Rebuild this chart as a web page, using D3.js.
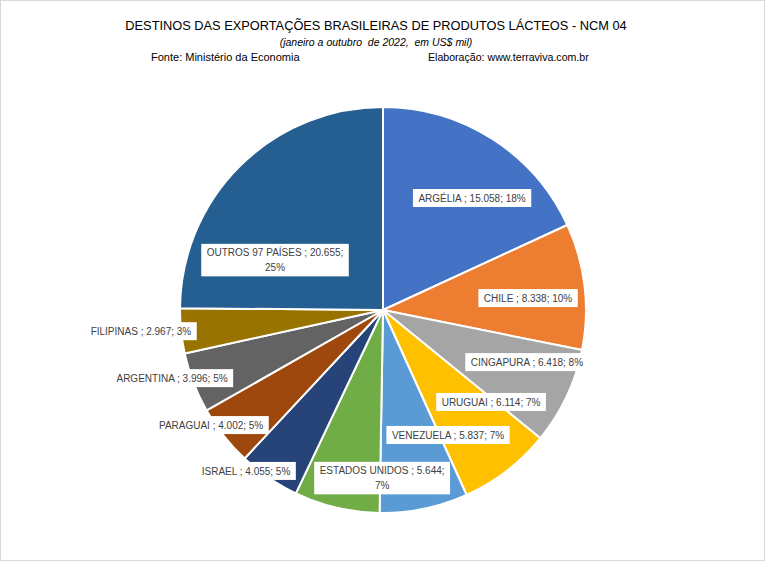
<!DOCTYPE html>
<html>
<head>
<meta charset="utf-8">
<script src="https://cdn.jsdelivr.net/npm/d3@7"></script>
<style>
  html, body { margin: 0; padding: 0; background: #fff; }
  svg { display: block; }
  text { font-family: "Liberation Sans", Arial, sans-serif; }
</style>
</head>
<body>
<svg id="chart" width="765" height="561"></svg>
<script>
// ---- data ----
const categories = ["ARGÉLIA", "CHILE", "CINGAPURA", "URUGUAI", "VENEZUELA", "ESTADOS UNIDOS",
                    "ISRAEL", "PARAGUAI", "ARGENTINA", "FILIPINAS", "OUTROS 97 PAÍSES"];
const values = [15058, 8338, 6418, 6114, 5837, 5644, 4055, 4002, 3996, 2967, 20655];
const colors = ["#4472C4", "#ED7D31", "#A5A5A5", "#FFC000", "#5B9BD5", "#70AD47",
                "#264478", "#9E480E", "#636363", "#997300", "#255E91"];
const titleText = "DESTINOS DAS EXPORTAÇÕES BRASILEIRAS DE PRODUTOS LÁCTEOS - NCM 04";
const subtitleText = "(janeiro a outubro  de 2022,  em US$ mil)";
const sourceText = "Fonte: Ministério da Economia";
const authorText = "Elaboração: www.terraviva.com.br";

// ---- label layout (polar: degrees clockwise from 12 o'clock, fraction of radius) ----
const labelAngles = [38.5, 85.3, 109.9, 130.4, 152.5, 180.3, 220.4, 236.2, 252.1, 265.0, 294.8];
const labelRadii  = [0.705, 0.717, 0.754, 0.699, 0.694, 0.828, 1.041, 1.019, 1.092, 1.197, 0.586];

// ---- setup ----
const svg = d3.select("#chart");
const W = 765, H = 561;
const cx = 383, cy = 310, R = 203;

svg.append("rect").attr("x", 0.5).attr("y", 0.5).attr("width", W - 1).attr("height", H - 1)
  .attr("fill", "#fff").attr("stroke", "#d9d9d9");

// titles
svg.append("text").attr("x", 376).attr("y", 30).attr("text-anchor", "middle")
  .attr("font-size", 12.8).attr("fill", "#000").text(titleText);
svg.append("text").attr("x", 376).attr("y", 46).attr("text-anchor", "middle")
  .attr("font-size", 10.5).attr("font-style", "italic").attr("fill", "#000")
  .style("white-space", "pre").text(subtitleText);
svg.append("text").attr("x", 151).attr("y", 61).attr("font-size", 11).attr("fill", "#000").text(sourceText);
svg.append("text").attr("x", 428).attr("y", 61).attr("font-size", 10.6).attr("fill", "#000").text(authorText);

// percentages (largest remainder, as Excel does so they sum to 100)
const total = d3.sum(values);
const raw = values.map(v => v / total * 100);
const pcts = raw.map(Math.floor);
let remaining = 100 - d3.sum(pcts);
d3.range(values.length).sort((a, b) => (raw[b] - pcts[b]) - (raw[a] - pcts[a]))
  .forEach(i => { if (remaining > 0) { pcts[i] += 1; remaining--; } });

const ptBR = d3.formatLocale({decimal: ",", thousands: ".", grouping: [3], currency: ["", ""]});
const fmt = ptBR.format(",d");

const color = d3.scaleOrdinal().domain(categories).range(colors);
const pie = d3.pie().sort(null).value(d => d.value);
const arc = d3.arc().innerRadius(0).outerRadius(R);
const data = categories.map((c, i) => ({name: c, value: values[i], pct: pcts[i], i}));
const arcs = pie(data);

const g = svg.append("g").attr("transform", `translate(${cx},${cy})`);
g.selectAll("path").data(arcs).join("path")
  .attr("d", arc)
  .attr("fill", d => color(d.data.name))
  .attr("stroke", "#fff").attr("stroke-width", 2).attr("stroke-linejoin", "round");

// labels
const lg = g.append("g");
arcs.forEach(d => {
  const i = d.data.i;
  const a = labelAngles[i] * Math.PI / 180;
  const r = labelRadii[i] * R;
  const x = Math.sin(a) * r, y = -Math.cos(a) * r;
  const full = `${d.data.name} ; ${fmt(d.data.value)}; ${d.data.pct}%`;
  const grp = lg.append("g");
  const box = grp.append("rect").attr("fill", "#fff");
  const t = grp.append("text").attr("font-size", 10).attr("fill", "#404040").attr("text-anchor", "middle");
  t.text(full);
  let lines = [full];
  if (t.node().getComputedTextLength() > 140) {
    lines = [`${d.data.name} ; ${fmt(d.data.value)};`, `${d.data.pct}%`];
  }
  t.text(null);
  const lh = 14.5;
  const y0 = y - (lines.length - 1) * lh / 2;
  lines.forEach((ln, k) => {
    t.append("tspan").attr("x", x).attr("y", y0 + k * lh + 3.6).text(ln);
  });
  let maxW = 0;
  t.selectAll("tspan").each(function() { maxW = Math.max(maxW, this.getComputedTextLength()); });
  const bw = maxW + 11, bh = 18 + (lines.length - 1) * lh;
  box.attr("x", x - bw / 2).attr("y", y - bh / 2).attr("width", bw).attr("height", bh);
});
</script>
</body>
</html>
